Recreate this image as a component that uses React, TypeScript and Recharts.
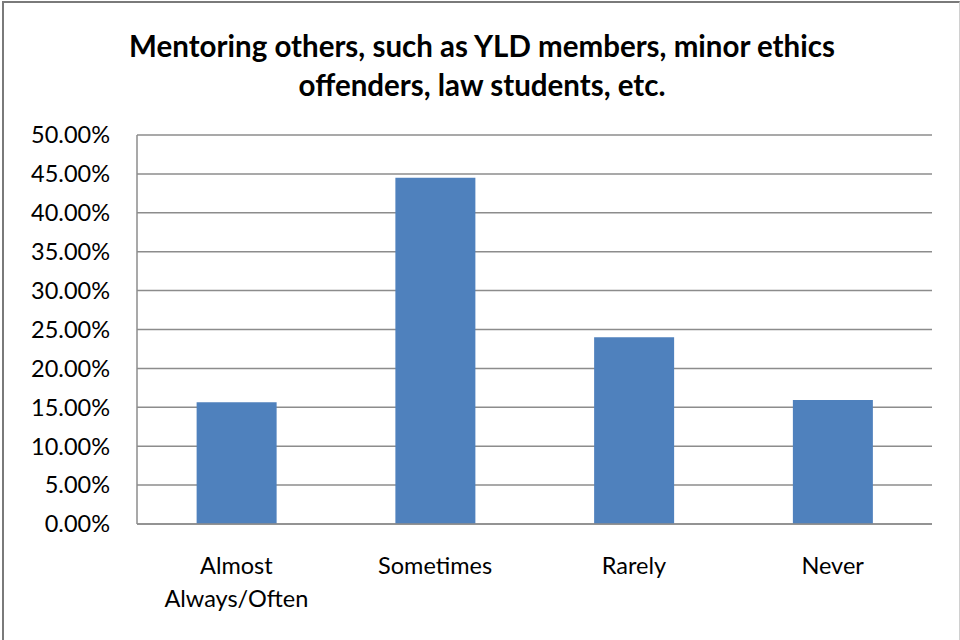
import React from 'react'
import { BarChart, Bar, CartesianGrid, XAxis, YAxis } from 'recharts'

// categories and shares
const categories = ['Almost\nAlways/Often', 'Sometimes', 'Rarely', 'Never']
const shares = [15.65, 44.5, 24.0, 15.95]
const yTicks = [0, 5, 10, 15, 20, 25, 30, 35, 40, 45, 50]

const data = categories.map((c, i) => ({ name: c, value: shares[i] }))

const FONT = 'Lato, "Open Sans", sans-serif'

const CatTick = (props: any) => {
  const { x, y, payload } = props
  const lines = String(payload.value).split('\n')
  return (
    <text x={x} y={y} textAnchor="middle" fontFamily={FONT} fontSize={23.5} fill="#000">
      {lines.map((l, i) => (
        <tspan key={i} x={x} dy={i === 0 ? 42 : 33}>
          {l}
        </tspan>
      ))}
    </text>
  )
}

const App: React.FC = () => {
  return (
    <div
      style={{
        position: 'absolute',
        left: 0,
        top: 0,
        width: 960,
        height: 640,
        overflow: 'hidden',
        background: '#fff',
      }}
    >
      {/* chart frame */}
      <div
        style={{
          position: 'absolute',
          left: 2,
          top: 1,
          width: 955,
          height: 700,
          borderLeft: '2px solid #7a7a7a',
          borderTop: '2px solid #7a7a7a',
          borderRight: '1px solid #d0d0d0',
        }}
      />
      <div
        style={{
          position: 'absolute',
          left: 0,
          top: 26,
          width: 964,
          textAlign: 'center',
          fontFamily: FONT,
          fontWeight: 700,
          fontSize: 29.5,
          lineHeight: '39px',
          color: '#000',
        }}
      >
        Mentoring others, such as YLD members, minor ethics
        <br />
        offenders, law students, etc.
      </div>
      <div style={{ position: 'absolute', left: 0, top: 0 }}>
        <BarChart
          width={960}
          height={640}
          data={data}
          margin={{ top: 135, right: 28, bottom: 0, left: 0 }}
          barCategoryGap="30%"
        >
          <CartesianGrid vertical={false} stroke="#8c8c8c" strokeWidth={1.5} />
          <XAxis
            dataKey="name"
            height={116}
            tick={<CatTick />}
            tickLine={false}
            axisLine={{ stroke: '#8c8c8c', strokeWidth: 1.5 }}
            interval={0}
          />
          <YAxis
            width={137}
            domain={[0, 50]}
            ticks={yTicks}
            tickFormatter={(v: number) => `${v.toFixed(2)}%`}
            tick={{ fontFamily: FONT, fontSize: 23.5, fill: '#000' }}
            tickLine={false}
            tickMargin={21}
            axisLine={{ stroke: '#8c8c8c', strokeWidth: 1.5 }}
          />
          <Bar dataKey="value" fill="#4f81bd" isAnimationActive={false} />
        </BarChart>
      </div>
    </div>
  )
}

export default App
